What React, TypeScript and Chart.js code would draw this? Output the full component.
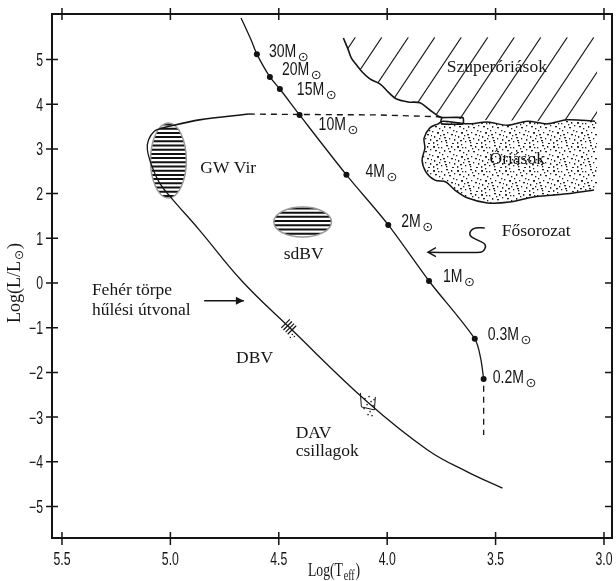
import React, { useEffect, useRef } from "react";
import { Chart, registerables } from "chart.js";
Chart.register(...registerables);

// ---------- axes ----------
const xTickValues = [5.5, 5.0, 4.5, 4.0, 3.5, 3.0];
const yTickValues = [-5, -4, -3, -2, -1, 0, 1, 2, 3, 4, 5];
const X_MIN = 2.963;
const X_MAX = 5.546;
const Y_MIN = -5.705;
const Y_MAX = 6.018;

// ---------- main sequence ----------
const msTeff = [4.674, 4.628, 4.601, 4.541, 4.495, 4.404, 4.188, 3.995, 3.807, 3.596, 3.569, 3.555];
const msLum = [5.93, 5.44, 5.12, 4.61, 4.34, 3.76, 2.42, 1.30, 0.045, -1.25, -1.68, -2.15];
const msTailTeff = [3.555, 3.555];
const msTailLum = [-2.30, -3.40];

const massLabels = ["30", "20", "15", "10", "4", "2", "1", "0.3", "0.2"];
const massTeff = [4.601, 4.541, 4.495, 4.404, 4.188, 3.995, 3.807, 3.596, 3.555];
const massLum = [5.12, 4.61, 4.34, 3.76, 2.42, 1.30, 0.045, -1.25, -2.15];

// ---------- evolutionary track (giants -> GW Vir) ----------
const trackSolidTeff = [5.037, 4.867, 4.638];
const trackSolidLum = [3.47, 3.65, 3.78];
const trackDashTeff = [4.638, 4.404, 4.041, 3.766, 3.748];
const trackDashLum = [3.78, 3.77, 3.76, 3.72, 3.70];
const loopTeff = [3.748, 3.651, 3.648, 3.651, 3.748, 3.752, 3.748];
const loopLum = [3.70, 3.70, 3.63, 3.56, 3.56, 3.63, 3.70];

// ---------- white dwarf cooling track ----------
const wdTeff = [5.037, 5.073, 5.101, 5.106, 5.087, 5.050, 4.995, 4.867, 4.670, 4.454, 4.087, 3.812, 3.628, 3.468];
const wdLum = [3.47, 3.40, 3.20, 2.98, 2.64, 2.24, 1.90, 1.19, 0.045, -0.98, -2.68, -3.74, -4.23, -4.59];

// ---------- supergiant boundary ----------
const sgTeff = [4.202, 4.179, 4.165, 4.142, 4.115, 4.078, 4.032, 3.995, 3.959, 3.904, 3.849, 3.803, 3.766, 3.748];
const sgLum = [5.48, 5.21, 5.03, 4.88, 4.72, 4.56, 4.45, 4.27, 4.12, 4.05, 4.03, 3.87, 3.74, 3.70];
const sgCornerTeff = [3.628, 3.032, 3.032, 4.202];
const sgCornerLum = [3.65, 3.60, 5.50, 5.50];

// ---------- giants cloud ----------
const giantTeff = [3.032, 3.041, 3.170, 3.261, 3.353, 3.445, 3.537, 3.628, 3.743, 3.766, 3.803, 3.830, 3.826, 3.839, 3.821, 3.780, 3.729, 3.688, 3.628, 3.537, 3.436, 3.330, 3.229, 3.147, 3.046, 3.032];
const giantLum = [3.62, 3.62, 3.65, 3.56, 3.62, 3.53, 3.60, 3.56, 3.62, 3.56, 3.47, 3.24, 3.02, 2.75, 2.48, 2.30, 2.26, 2.08, 1.90, 1.79, 1.81, 1.92, 1.97, 2.01, 2.08, 2.08];

// ---------- variable star regions (center, half-widths) ----------
const regionNames = ["GW Vir", "sdBV"];
const regionTeff = [5.009, 4.390];
const regionLum = [2.74, 1.365];
const regionHalfTeff = [0.0826, 0.133];
const regionHalfLum = [0.839, 0.336];

// ---------- arrows ----------
const fsArrowTeff = [3.812, 3.569, 3.550, 3.550, 3.583, 3.615, 3.615, 3.592, 3.550];
const fsArrowLum = [0.69, 0.69, 0.76, 0.87, 0.96, 1.05, 1.16, 1.23, 1.23];
const wdArrowTeff = [4.844, 4.661];
const wdArrowLum = [-0.40, -0.40];

// ---------- DBV / DAV markers ----------
const dbvTeff = 4.454;
const dbvLum = -0.98;
const davTeff = 4.096;
const davLum = -2.66;

// ---------- annotations (left x, baseline y) ----------
const noteTexts = ["Szuperóriások", "Óriások", "Fősorozat", "GW Vir", "sdBV", "Fehér törpe", "hűlési útvonal", "DBV", "DAV", "csillagok"];
const noteTeff = [3.725, 3.528, 3.472, 4.862, 4.477, 5.362, 5.362, 4.697, 4.422, 4.422];
const noteLum = [4.73, 2.66, 1.05, 2.46, 0.54, -0.27, -0.72, -1.79, -3.47, -3.87];

const SERIF = "'Liberation Serif','Times New Roman',serif";
const SANS = "'Liberation Sans',Arial,sans-serif";
const INK = "#151515";

const STIPPLE_DOTS = [
  [1, 2], [5, 0], [9, 3], [14, 1], [19, 2], [22, 5], [3, 6], [7, 8], [12, 6], [17, 7],
  [21, 10], [0, 11], [5, 12], [10, 10], [15, 12], [19, 14], [2, 16], [8, 15], [12, 17],
  [17, 18], [22, 19], [4, 20], [9, 21], [14, 22], [20, 23], [6, 3], [16, 4], [11, 14],
  [1, 22], [23, 15], [13, 20], [7, 18],
];

function pts(xs: number[], ys: number[]) {
  return xs.map((x, i) => ({ x, y: ys[i] }));
}

const lineDs = (xs: number[], ys: number[], extra: any = {}) => ({
  data: pts(xs, ys),
  showLine: true,
  pointRadius: 0,
  borderColor: INK,
  borderWidth: 1.3,
  backgroundColor: INK,
  fill: false,
  tension: 0,
  ...extra,
});

// draws horizontally condensed text
function narrowText(ctx: CanvasRenderingContext2D, text: string, x: number, y: number, size: number, squeeze: number, align: string) {
  ctx.save();
  ctx.font = `${size}px ${SANS}`;
  const w = ctx.measureText(text).width * squeeze;
  let left = x;
  if (align === "center") left = x - w / 2;
  else if (align === "right") left = x - w;
  ctx.translate(left, y);
  ctx.scale(squeeze, 1);
  ctx.textAlign = "left";
  ctx.fillText(text, 0, 0);
  ctx.restore();
  return w;
}

const hrPlugin = {
  id: "hr",
  beforeDatasetsDraw(chart: any) {
    const { ctx, scales } = chart;
    const xs = scales.x;
    const ys = scales.y;
    const P = (t: number, l: number) => [xs.getPixelForValue(t), ys.getPixelForValue(l)];
    ctx.save();

    // supergiant hatch region
    ctx.save();
    ctx.beginPath();
    sgTeff.forEach((t, i) => {
      const [px, py] = P(t, sgLum[i]);
      if (i === 0) ctx.moveTo(px, py);
      else ctx.lineTo(px, py);
    });
    sgCornerTeff.forEach((t, i) => {
      const [px, py] = P(t, sgCornerLum[i]);
      ctx.lineTo(px, py);
    });
    ctx.closePath();
    ctx.clip();
    const [tlx, tly] = P(sgCornerTeff[3], sgCornerLum[3]);
    ctx.strokeStyle = INK;
    ctx.lineWidth = 1.1;
    const slope = 1.5;
    for (let k = 0; k < 12; k++) {
      const x0 = tlx + 12 + k * 26.5;
      const h = 140;
      ctx.beginPath();
      ctx.moveTo(x0, tly);
      ctx.lineTo(x0 - h / slope, tly + h);
      ctx.stroke();
    }
    ctx.restore();

    // giants stipple
    const c = document.createElement("canvas");
    c.width = 24;
    c.height = 24;
    const g = c.getContext("2d")!;
    g.fillStyle = "#222";
    STIPPLE_DOTS.forEach(([a, b], i) => g.fillRect(a, b, i % 3 === 0 ? 2 : 1.3, i % 4 === 0 ? 1.8 : 1.3));
    const pat = ctx.createPattern(c, "repeat");
    ctx.beginPath();
    giantTeff.forEach((t, i) => {
      const [px, py] = P(t, giantLum[i]);
      if (i === 0) ctx.moveTo(px, py);
      else ctx.lineTo(px, py);
    });
    ctx.closePath();
    ctx.fillStyle = "#fff";
    ctx.fill();
    if (pat) {
      ctx.fillStyle = pat;
      ctx.fill();
    }

    // hatched ellipses
    regionNames.forEach((_, i) => {
      const [cx, cy] = P(regionTeff[i], regionLum[i]);
      const rx = Math.abs(xs.getPixelForValue(regionTeff[i] + regionHalfTeff[i]) - cx);
      const ry = Math.abs(ys.getPixelForValue(regionLum[i] + regionHalfLum[i]) - cy);
      ctx.save();
      ctx.beginPath();
      ctx.ellipse(cx, cy, rx, ry, 0, 0, Math.PI * 2);
      ctx.fillStyle = "#fff";
      ctx.fill();
      ctx.clip();
      ctx.strokeStyle = "#111";
      ctx.lineWidth = 2;
      for (let yy = cy - ry + 1.5; yy < cy + ry; yy += 4.2) {
        ctx.beginPath();
        ctx.moveTo(cx - rx - 2, yy);
        ctx.lineTo(cx + rx + 2, yy);
        ctx.stroke();
      }
      ctx.restore();
      ctx.beginPath();
      ctx.ellipse(cx, cy, rx, ry, 0, 0, Math.PI * 2);
      ctx.strokeStyle = "#999";
      ctx.lineWidth = 1.5;
      ctx.stroke();
    });
    ctx.restore();
  },
  afterDatasetsDraw(chart: any) {
    const { ctx, scales, chartArea: a } = chart;
    const xs = scales.x;
    const ys = scales.y;
    const P = (t: number, l: number) => [xs.getPixelForValue(t), ys.getPixelForValue(l)];
    ctx.save();
    ctx.strokeStyle = INK;
    ctx.fillStyle = INK;
    ctx.textBaseline = "alphabetic";

    // frame: top and right
    ctx.lineWidth = 2;
    ctx.beginPath();
    ctx.moveTo(a.left - 1, a.top);
    ctx.lineTo(a.right, a.top);
    ctx.lineTo(a.right, a.bottom);
    ctx.stroke();

    // tick marks + labels
    ctx.lineWidth = 1.5;
    xs.ticks.forEach((tk: any) => {
      const px = xs.getPixelForValue(tk.value);
      ctx.beginPath();
      ctx.moveTo(px, a.top - 6);
      ctx.lineTo(px, a.top + 6);
      ctx.moveTo(px, a.bottom - 6);
      ctx.lineTo(px, a.bottom + 7);
      ctx.stroke();
      narrowText(ctx, Number(tk.value).toFixed(1), px, a.bottom + 27, 17.5, 0.7, "center");
    });
    ys.ticks.forEach((tk: any) => {
      const py = ys.getPixelForValue(tk.value);
      ctx.beginPath();
      ctx.moveTo(a.left - 6, py);
      ctx.lineTo(a.left + 6, py);
      ctx.moveTo(a.right - 7, py);
      ctx.lineTo(a.right, py);
      ctx.stroke();
      const lbl = tk.value < 0 ? "\u2212" + Math.abs(tk.value) : String(tk.value);
      narrowText(ctx, lbl, a.left - 9, py + 6.5, 17.5, 0.7, "right");
    });

    // arrowheads
    ctx.lineWidth = 1.4;
    {
      const [tx, ty] = P(fsArrowTeff[0], fsArrowLum[0]);
      ctx.beginPath();
      ctx.moveTo(tx + 8, ty - 4.5);
      ctx.lineTo(tx, ty);
      ctx.lineTo(tx + 8, ty + 4.5);
      ctx.stroke();
    }
    {
      const [tx, ty] = P(wdArrowTeff[1], wdArrowLum[1]);
      ctx.beginPath();
      ctx.moveTo(tx - 8, ty - 4);
      ctx.lineTo(tx, ty);
      ctx.lineTo(tx - 8, ty + 4);
      ctx.closePath();
      ctx.fill();
    }

    // DBV marks
    {
      const [cx, cy] = P(dbvTeff, dbvLum);
      ctx.lineWidth = 1.2;
      const ux = Math.SQRT1_2, uy = Math.SQRT1_2;
      const nx = Math.SQRT1_2, ny = -Math.SQRT1_2;
      [-4.5, -1.5, 1.5, 4.5].forEach((s) => {
        const bx = cx + ux * s;
        const by = cy + uy * s;
        ctx.beginPath();
        ctx.moveTo(bx - nx * 6, by - ny * 6);
        ctx.lineTo(bx + nx * 6, by + ny * 6);
        ctx.stroke();
      });
      [[3, 7], [5, 9], [1, 10]].forEach(([dx, dy]) => ctx.fillRect(cx + dx, cy + dy, 1.3, 1.3));
    }
    // DAV box
    {
      const [cx, cy] = P(davTeff, davLum);
      ctx.lineWidth = 1;
      ctx.beginPath();
      ctx.moveTo(cx - 6, cy - 9);
      ctx.lineTo(cx - 5, cy + 5);
      ctx.lineTo(cx + 8, cy + 8);
      ctx.lineTo(cx + 9, cy - 5);
      ctx.stroke();
      [[-2, -4], [2, -6], [4, -1], [0, 2], [6, 3], [-3, 6], [3, 9], [7, -3], [1, 12], [5, 13]].forEach(([dx, dy]) =>
        ctx.fillRect(cx + dx, cy + dy, 1.4, 1.4)
      );
    }

    // mass labels
    const massOffsets = [[12, 3], [12, -2], [17, 6], [19, 15], [19, 2], [13, 2], [14, 1], [13, 1], [9, 4]];
    massLabels.forEach((m, i) => {
      const [px, py] = P(massTeff[i], massLum[i]);
      const [dx, dy] = massOffsets[i];
      const w = narrowText(ctx, m + "M", px + dx, py + dy, 18.5, 0.76, "left");
      ctx.font = `13px 'DejaVu Sans',sans-serif`;
      ctx.textAlign = "left";
      ctx.fillText("⊙", px + dx + w + 1.5, py + dy + 4);
    });

    // annotations
    ctx.font = `17.5px ${SERIF}`;
    ctx.textAlign = "left";
    noteTexts.forEach((t, i) => {
      const [px, py] = P(noteTeff[i], noteLum[i]);
      ctx.fillText(t, px, py);
    });

    // x axis title: Log(T_eff)
    {
      ctx.save();
      ctx.translate(308, 576);
      ctx.scale(0.72, 1);
      ctx.font = `19px ${SERIF}`;
      ctx.fillText("Log(T", 0, 0);
      let w = ctx.measureText("Log(T").width;
      ctx.font = `14px ${SERIF}`;
      ctx.fillText("eff", w + 1, 4);
      w += ctx.measureText("eff").width + 2;
      ctx.font = `19px ${SERIF}`;
      ctx.fillText(")", w, 0);
      ctx.restore();
    }
    // y axis title: Log(L/L⊙)
    {
      ctx.save();
      ctx.translate(20, 323);
      ctx.rotate(-Math.PI / 2);
      ctx.font = `18px ${SERIF}`;
      ctx.fillText("Log(L/L", 0, 0);
      let w = ctx.measureText("Log(L/L").width;
      ctx.font = `12px 'DejaVu Sans',sans-serif`;
      ctx.fillText("⊙", w + 1, 3);
      w += ctx.measureText("⊙").width + 2;
      ctx.font = `18px ${SERIF}`;
      ctx.fillText(")", w, 0);
      ctx.restore();
    }
    ctx.restore();
  },
};

export default function App() {
  const ref = useRef<HTMLCanvasElement>(null);
  useEffect(() => {
    document.body.style.margin = "0";
    document.body.style.overflow = "hidden";
    const chart = new Chart(ref.current as HTMLCanvasElement, {
      type: "scatter",
      data: {
        datasets: [
          lineDs(wdTeff, wdLum, { tension: 0.4 }),
          lineDs(msTeff, msLum, { tension: 0.3 }),
          lineDs(msTailTeff, msTailLum, { borderDash: [6, 5] }),
          lineDs(trackSolidTeff, trackSolidLum, { tension: 0.3, borderWidth: 1.6 }),
          lineDs(trackDashTeff, trackDashLum, { borderDash: [6, 5], borderWidth: 1.4 }),
          lineDs(loopTeff, loopLum, { tension: 0.2, borderWidth: 1.6 }),
          lineDs(sgTeff, sgLum, { tension: 0.35, borderWidth: 1.6 }),
          lineDs(giantTeff.slice(1, giantTeff.length - 1), giantLum.slice(1, giantLum.length - 1), { tension: 0.3, borderWidth: 1.5 }),
          lineDs(fsArrowTeff, fsArrowLum, { tension: 0.35, borderWidth: 1.5 }),
          lineDs(wdArrowTeff, wdArrowLum, { borderWidth: 1.5 }),
          {
            data: pts(massTeff, massLum),
            showLine: false,
            pointRadius: 3,
            pointBorderWidth: 0,
            pointBackgroundColor: "#111",
            backgroundColor: "#111",
          },
        ],
      },
      options: {
        responsive: false,
        animation: false,
        events: [],
        layout: { padding: { top: 14, right: 1, left: 0, bottom: 0 } },
        plugins: { legend: { display: false }, tooltip: { enabled: false }, title: { display: false } },
        scales: {
          x: {
            type: "linear",
            reverse: true,
            min: X_MIN,
            max: X_MAX,
            afterBuildTicks: (s: any) => {
              s.ticks = xTickValues.map((v) => ({ value: v }));
            },
            afterFit: (s: any) => {
              s.height = 43;
              s.paddingLeft = 0;
              s.paddingRight = 0;
            },
            ticks: { display: false },
            grid: { display: false, drawTicks: false },
            border: { display: true, color: INK, width: 2 },
          },
          y: {
            type: "linear",
            min: Y_MIN,
            max: Y_MAX,
            afterBuildTicks: (s: any) => {
              s.ticks = yTickValues.map((v) => ({ value: v }));
            },
            afterFit: (s: any) => {
              s.width = 52;
              s.paddingTop = 0;
              s.paddingBottom = 0;
            },
            ticks: { display: false },
            grid: { display: false, drawTicks: false },
            border: { display: true, color: INK, width: 2 },
          },
        },
      },
      plugins: [hrPlugin],
    } as any);
    return () => chart.destroy();
  }, []);
  return <canvas ref={ref} width={616} height={581} style={{ display: "block" }} />;
}
